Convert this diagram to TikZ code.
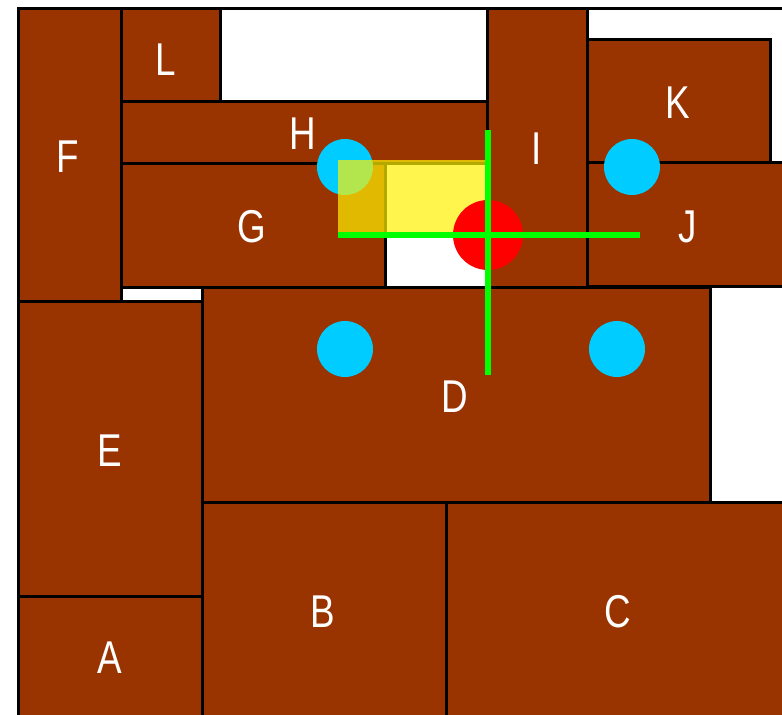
\documentclass[tikz,border=0pt]{standalone}
\usepackage{fontspec}
\usepackage{graphicx}
\setmainfont{Liberation Sans}
\definecolor{brick}{HTML}{993300}
\definecolor{spot}{HTML}{00CCFF}
\definecolor{lime}{HTML}{00FF00}
\begin{document}
\begin{tikzpicture}[x=1pt,y=-1pt,
  box/.style={draw=black,line width=3pt,fill=brick},
  lbl/.style={text=white,inner sep=0pt,font=\fontsize{46}{46}\selectfont},
  dot/.style={fill=spot},
  cross/.style={draw=lime,line width=6pt}]
\useasboundingbox (0,0) rectangle (782,715);
\clip (0,0) rectangle (782,715);
\fill[white] (0,0) rectangle (782,715);
\draw[line width=3pt] (18,8) rectangle (820,740);
% rectangles
\draw[box] (18,8) rectangle (121,301);
\draw[box] (121,8) rectangle (220,101);
\draw[box] (121,101) rectangle (487,163);
\draw[box] (121,163) rectangle (385,287);
\draw[box] (487,8) rectangle (587,287);
\draw[box] (587,39) rectangle (770,162);
\draw[box] (587,162) rectangle (820,286);
\draw[box] (18,301) rectangle (202,596);
\draw[box] (202,287) rectangle (710,502);
\draw[box] (18,596) rectangle (202,740);
\draw[box] (202,502) rectangle (446,740);
\draw[box] (446,502) rectangle (820,740);
% labels
\node[lbl] (F) at (68,157) {\scalebox{0.8}[1]{F}};
\node[lbl] (L) at (166,60) {\scalebox{0.8}[1]{L}};
\node[lbl] (H) at (303,134) {\scalebox{0.8}[1]{H}};
\node[lbl] (G) at (252,227) {\scalebox{0.8}[1]{G}};
\node[lbl] (I) at (537,149) {\scalebox{0.8}[1]{I}};
\node[lbl] (K) at (678,103) {\scalebox{0.8}[1]{K}};
\node[lbl] (J) at (688,227) {\scalebox{0.8}[1]{J}};
\node[lbl] (E) at (110,451) {\scalebox{0.8}[1]{E}};
\node[lbl] (D) at (455,397) {\scalebox{0.8}[1]{D}};
\node[lbl] (A) at (110,658) {\scalebox{0.8}[1]{A}};
\node[lbl] (B) at (323,612) {\scalebox{0.8}[1]{B}};
\node[lbl] (C) at (618,612) {\scalebox{0.8}[1]{C}};
% cyan dots
\fill[dot] (345,167) circle (28);
\fill[dot] (632,167) circle (28);
\fill[dot] (345,349) circle (28);
\fill[dot] (617,349) circle (28);
% yellow overlay
\fill[yellow,opacity=0.7] (338,160) rectangle (486,237);
% red dot
\fill[red] (488,235) circle (35);
% green cross
\draw[cross] (338,235) -- (640,235);
\draw[cross] (488,130) -- (488,375);
\end{tikzpicture}
\end{document}
